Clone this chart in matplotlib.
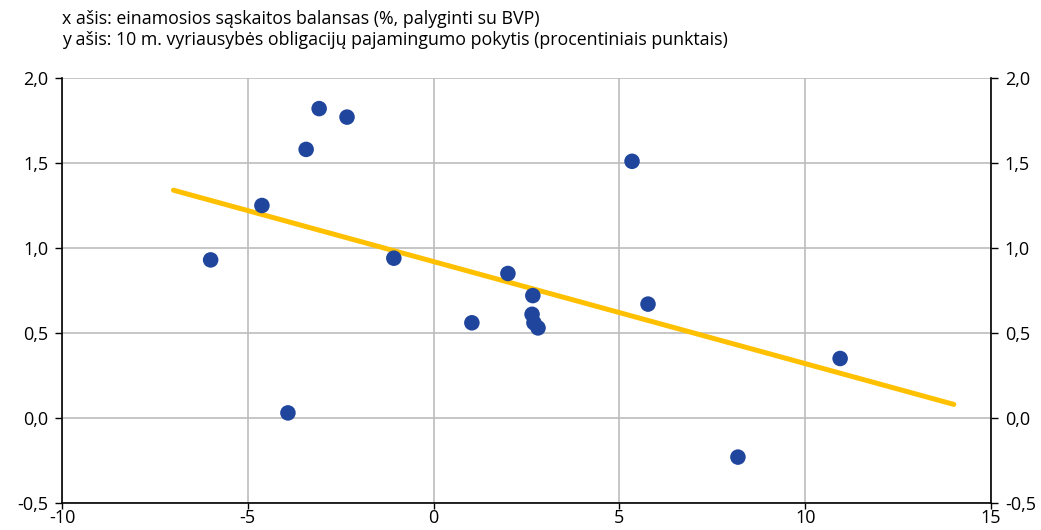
import matplotlib
matplotlib.use("Agg")
import matplotlib.pyplot as plt
import numpy as np

# Data
current_account = [-6.0, -4.62, -3.92, -3.43, -3.08, -2.33, -1.07, 1.03, 2.0, 2.67,
                   2.65, 2.70, 2.81, 5.34, 5.77, 8.19, 10.94]
yield_change = [0.93, 1.25, 0.03, 1.58, 1.82, 1.77, 0.94, 0.56, 0.85, 0.72,
                0.61, 0.56, 0.53, 1.51, 0.67, -0.23, 0.35]
trend_x = [-7.0, 14.0]
trend_y = [1.34, 0.08]

x_ticks = [-10, -5, 0, 5, 10, 15]
x_tick_labels = ["-10", "-5", "0", "5", "10", "15"]
y_ticks = [-0.5, 0.0, 0.5, 1.0, 1.5, 2.0]
y_tick_labels = ["-0,5", "0,0", "0,5", "1,0", "1,5", "2,0"]

title_lines = ["x ašis: einamosios sąskaitos balansas (%, palyginti su BVP)",
               "y ašis: 10 m. vyriausybės obligacijų pajamingumo pokytis (procentiniais punktais)"]

plt.rcParams['font.family'] = ['Open Sans', 'DejaVu Sans']

fig = plt.figure(figsize=(10.41, 5.30), dpi=100)
ax = fig.add_axes([62/1041, 27/530, (991-62)/1041, (503-78)/530])

ax.set_xlim(-10, 15)
ax.set_ylim(-0.5, 2.0)

ax.grid(True, color="#bcbcbc", linewidth=1.2)
ax.set_axisbelow(True)

ax.plot(trend_x, trend_y, color="#FFC000", linewidth=3.6, solid_capstyle="round", zorder=2)
ax.scatter(current_account, yield_change, s=125, color="#1F459C", edgecolors="none", zorder=3)

ax.set_xticks(x_ticks)
ax.set_xticklabels(x_tick_labels)
ax.set_yticks(y_ticks)
ax.set_yticklabels(y_tick_labels)

ax.spines['top'].set_visible(False)
for s in ['left', 'right', 'bottom']:
    ax.spines[s].set_color("black")
    ax.spines[s].set_linewidth(1.2)

ax.tick_params(axis='y', which='both', left=True, right=True, labelleft=True, labelright=True,
               direction='out', length=5, width=1, labelsize=13, colors="black", pad=5)
ax.tick_params(axis='x', direction='out', length=4, width=1, labelsize=13, pad=0)

fig.text(62/1041, 1 - 10/530, title_lines[0] + "\n" + title_lines[1], ha="left", va="top",
         fontsize=12.8, linespacing=1.2)

fig.savefig("out.png", dpi=100)
